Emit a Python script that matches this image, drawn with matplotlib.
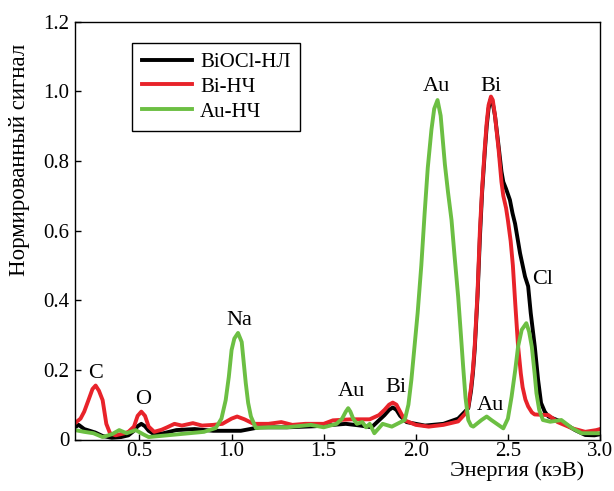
import matplotlib

matplotlib.use("Agg")
import matplotlib.pyplot as plt

plt.rcParams["font.family"] = ["Liberation Serif", "DejaVu Serif"]
plt.rcParams["font.size"] = 15

# values
energy_biocl = [0.15, 0.17, 0.20, 0.26, 0.30, 0.35, 0.40, 0.44, 0.47, 0.49, 0.51, 0.53,
                0.55, 0.58, 0.63, 0.70, 0.80, 0.90, 1.00, 1.05, 1.10, 1.15, 1.30, 1.45,
                1.55, 1.62, 1.70, 1.76, 1.80, 1.83, 1.855, 1.875, 1.895, 1.915, 1.95, 2.05,
                2.15, 2.23, 2.285, 2.30, 2.31, 2.32, 2.335, 2.348, 2.36, 2.375, 2.385, 2.395,
                2.405, 2.418, 2.43, 2.45, 2.465, 2.475, 2.49, 2.511, 2.525, 2.539, 2.566,
                2.593, 2.61, 2.624, 2.646, 2.664, 2.68, 2.70, 2.72, 2.79, 2.865, 2.92, 2.97,
                3.0]
signal_biocl = [0.035, 0.042, 0.030, 0.020, 0.010, 0.005, 0.007, 0.012, 0.025, 0.038, 0.045,
                0.038, 0.025, 0.015, 0.018, 0.027, 0.030, 0.025, 0.025, 0.025, 0.030, 0.035,
                0.035, 0.038, 0.042, 0.045, 0.040, 0.035, 0.055, 0.070, 0.085, 0.092, 0.085,
                0.068, 0.050, 0.040, 0.045, 0.060, 0.090, 0.140, 0.190, 0.260, 0.410, 0.580,
                0.710, 0.830, 0.900, 0.950, 0.975, 0.965, 0.930, 0.840, 0.770, 0.740, 0.720,
                0.688, 0.650, 0.620, 0.535, 0.468, 0.440, 0.363, 0.267, 0.171, 0.105, 0.080,
                0.066, 0.051, 0.027, 0.013, 0.012, 0.015]

energy_bi = [0.15, 0.18, 0.20, 0.223, 0.245, 0.262, 0.28, 0.30, 0.32, 0.34, 0.37, 0.42,
             0.44, 0.47, 0.49, 0.51, 0.53, 0.55, 0.58, 0.62, 0.65, 0.69, 0.73, 0.79, 0.84,
             0.90, 0.95, 1.00, 1.03, 1.07, 1.12, 1.20, 1.27, 1.33, 1.40, 1.50, 1.55, 1.65,
             1.75, 1.80, 1.83, 1.855, 1.875, 1.895, 1.915, 1.94, 2.00, 2.07, 2.15, 2.23,
             2.27, 2.285, 2.30, 2.31, 2.32, 2.335, 2.348, 2.36, 2.375, 2.385, 2.395, 2.408,
             2.418, 2.43, 2.45, 2.465, 2.475, 2.49, 2.50, 2.515, 2.527, 2.54, 2.555, 2.57,
             2.58, 2.595, 2.61, 2.63, 2.645, 2.72, 2.77, 2.85, 2.92, 2.98, 3.0]
signal_bi = [0.047, 0.060, 0.080, 0.113, 0.145, 0.155, 0.140, 0.113, 0.045, 0.018, 0.012,
             0.018, 0.022, 0.037, 0.068, 0.080, 0.068, 0.037, 0.022, 0.028, 0.035, 0.045,
             0.040, 0.047, 0.040, 0.042, 0.045, 0.060, 0.066, 0.058, 0.045, 0.045, 0.050,
             0.042, 0.045, 0.045, 0.055, 0.058, 0.058, 0.070, 0.085, 0.100, 0.106, 0.100,
             0.080, 0.055, 0.042, 0.037, 0.042, 0.052, 0.075, 0.094, 0.150, 0.200, 0.270,
             0.420, 0.600, 0.720, 0.840, 0.910, 0.960, 0.985, 0.975, 0.930, 0.830, 0.740,
             0.700, 0.665, 0.630, 0.570, 0.500, 0.390, 0.270, 0.190, 0.150, 0.115, 0.095,
             0.078, 0.072, 0.070, 0.050, 0.032, 0.022, 0.027, 0.030]

energy_au = [0.15, 0.20, 0.25, 0.30, 0.35, 0.39, 0.43, 0.48, 0.52, 0.55, 0.65, 0.75, 0.85,
             0.914, 0.945, 0.968, 0.985, 1.00, 1.015, 1.035, 1.055, 1.077, 1.09, 1.105,
             1.132, 1.20, 1.30, 1.43, 1.50, 1.57, 1.60, 1.62, 1.633, 1.645, 1.66, 1.68,
             1.71, 1.73, 1.75, 1.775, 1.82, 1.87, 1.94, 1.96, 1.976, 1.99, 2.01, 2.03,
             2.048, 2.065, 2.085, 2.10, 2.118, 2.135, 2.158, 2.175, 2.194, 2.21, 2.23,
             2.245, 2.257, 2.27, 2.285, 2.30, 2.312, 2.357, 2.385, 2.41, 2.475, 2.50,
             2.52, 2.54, 2.555, 2.575, 2.60, 2.615, 2.63, 2.645, 2.655, 2.67, 2.69, 2.73,
             2.79, 2.85, 2.90, 3.0]
signal_au = [0.027, 0.022, 0.018, 0.007, 0.015, 0.027, 0.018, 0.027, 0.015, 0.007, 0.012,
             0.017, 0.022, 0.033, 0.060, 0.113, 0.180, 0.257, 0.290, 0.306, 0.280, 0.162,
             0.105, 0.066, 0.033, 0.035, 0.035, 0.042, 0.035, 0.045, 0.060, 0.080, 0.090,
             0.080, 0.060, 0.045, 0.050, 0.035, 0.045, 0.018, 0.045, 0.037, 0.056, 0.100,
             0.171, 0.250, 0.363, 0.500, 0.650, 0.780, 0.890, 0.950, 0.975, 0.930, 0.790,
             0.710, 0.630, 0.530, 0.410, 0.300, 0.210, 0.120, 0.056, 0.040, 0.037, 0.056,
             0.066, 0.056, 0.032, 0.060, 0.123, 0.200, 0.266, 0.315, 0.334, 0.310, 0.266,
             0.190, 0.133, 0.085, 0.056, 0.051, 0.056, 0.032, 0.018, 0.018]

peak_names = ["C", "O", "Na", "Au", "Bi", "Au", "Bi", "Cl", "Au"]
peak_x = [0.26, 0.52, 1.04, 1.65, 1.894, 2.11, 2.41, 2.69, 2.405]
peak_y = [0.19, 0.115, 0.343, 0.137, 0.148, 1.015, 1.015, 0.46, 0.099]

series_names = ["BiOCl-НЛ", "Bi-НЧ", "Au-НЧ"]
x_ticks = [0.5, 1.0, 1.5, 2.0, 2.5, 3.0]
x_tick_labels = ["0.5", "1.0", "1.5", "2.0", "2.5", "3.0"]
y_ticks = [0, 0.2, 0.4, 0.6, 0.8, 1.0, 1.2]
y_tick_labels = ["0", "0.2", "0.4", "0.6", "0.8", "1.0", "1.2"]

fig = plt.figure(figsize=(6.14, 4.91), dpi=100)
ax = fig.add_axes([75 / 614, 1 - 439.5 / 491, 525 / 614, 417.8 / 491])

lw = 2.8
ax.plot(energy_biocl, signal_biocl, color="black", lw=lw, label=series_names[0],
        solid_joinstyle="round")
ax.plot(energy_bi, signal_bi, color="#e8232a", lw=lw, label=series_names[1],
        solid_joinstyle="round")
ax.plot(energy_au, signal_au, color="#6cbf43", lw=lw, label=series_names[2],
        solid_joinstyle="round")

for name, px, py in zip(peak_names, peak_x, peak_y):
    ax.text(px, py, name, ha="center", va="center", fontsize=16)

ax.set_xlim(0.15, 3.0)
ax.set_ylim(0, 1.2)
ax.set_xticks(x_ticks, x_tick_labels)
ax.set_yticks(y_ticks, y_tick_labels)
ax.tick_params(direction="in", length=4, width=1, labelsize=15, pad=4)
ax.tick_params(axis="x", pad=2)
for spine in ax.spines.values():
    spine.set_linewidth(1.0)

ax.set_xlabel("Энергия (кэВ)", fontsize=16, ha="right")
ax.xaxis.set_label_coords((584 - 75) / 525, -(471 - 439.5) / 417.8)
ax.xaxis.label.set_verticalalignment("center")
ax.set_ylabel("Нормированный сигнал", fontsize=16.5, va="center")
ax.yaxis.set_label_coords((20 - 75) / 525, (439.5 - 160) / 417.8)

leg = ax.legend(loc="upper left", bbox_to_anchor=(0.109, 0.949), borderaxespad=0,
                fancybox=False, edgecolor="black", framealpha=1, handlelength=2.4,
                handletextpad=0.4, labelspacing=0.25, borderpad=0.45, fontsize=15)
leg.get_frame().set_linewidth(1.0)

fig.savefig("out.png", dpi=100)
